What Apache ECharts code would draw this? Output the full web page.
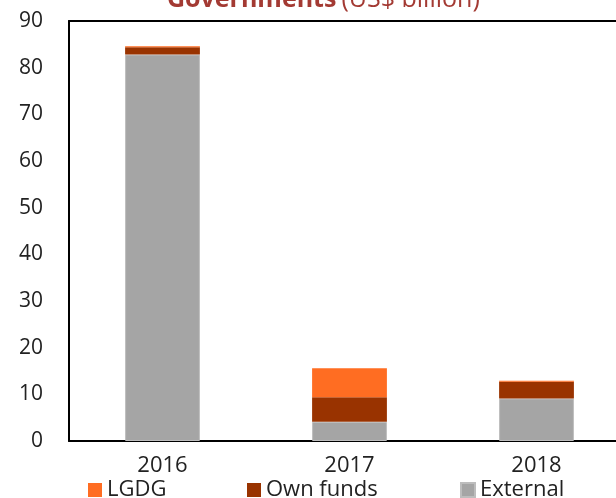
<!DOCTYPE html>
<html><head><meta charset="utf-8">
<script src="https://cdn.jsdelivr.net/npm/echarts@6/dist/echarts.min.js"></script>
<style>html,body{margin:0;padding:0;background:#fff}#c{width:616px;height:498px}</style>
</head><body><div id="c"></div>
<script>
const categories = ['2016', '2017', '2018'];
const external = [82.8, 4.1, 9.1];
const ownFunds = [1.6, 5.3, 3.6];
const lgdg = [0.2, 6.2, 0.2];
const yTicks = [0, 10, 20, 30, 40, 50, 60, 70, 80, 90];

const FONT = '"Open Sans", "Noto Sans", sans-serif';
const chart = echarts.init(document.getElementById('c'), null, {renderer: 'canvas'});
const legendStyle = {fontFamily: FONT, fontSize: 22, color: '#222'};
chart.setOption({
  animation: false,
  title: {
    text: '{b|Governments} {n|(US$ billion)}',
    left: 162, top: -18,
    textStyle: {rich: {
      b: {fontFamily: FONT, fontSize: 25, fontWeight: 'bold', color: '#A33A33'},
      n: {fontFamily: FONT, fontSize: 25, fontWeight: 'normal', color: '#A33A33'}
    }}
  },
  legend: [
    {data: ['LGDG'], left: 83, top: 474, itemWidth: 14, itemHeight: 14, itemGap: 4, textStyle: legendStyle, icon: 'rect'},
    {data: ['Own funds'], left: 242, top: 474, itemWidth: 14, itemHeight: 14, textStyle: legendStyle, icon: 'rect'},
    {data: ['External'], left: 455, top: 474, itemWidth: 14, itemHeight: 14, textStyle: legendStyle, icon: 'rect'}
  ],
  grid: {left: 69, top: 21, width: 561, height: 420, outerBoundsMode: 'none', containLabel: false, show: false},
  xAxis: [{
    type: 'category', data: categories,
    axisLine: {show: true, lineStyle: {color: '#000', width: 2}},
    axisTick: {show: false},
    axisLabel: {fontFamily: FONT, fontSize: 22, color: '#222', margin: 14}
  }, {
    type: 'category', data: categories, position: 'top',
    axisLine: {show: true, lineStyle: {color: '#000', width: 2}},
    axisTick: {show: false}, axisLabel: {show: false}
  }],
  yAxis: {
    type: 'value', min: 0, max: 90, interval: 10,
    axisLine: {show: true, lineStyle: {color: '#000', width: 2}},
    axisTick: {show: false},
    splitLine: {show: false},
    axisLabel: {fontFamily: FONT, fontSize: 21, color: '#222', margin: 26,
      formatter: v => yTicks.includes(v) ? String(v) : ''}
  },
  series: [
    {name: 'External', type: 'bar', stack: 's', data: external, barWidth: '40%',
      itemStyle: {color: '#A5A5A5', borderColor: '#BDBDBD', borderWidth: 1}},
    {name: 'Own funds', type: 'bar', stack: 's', data: ownFunds, barWidth: '40%',
      itemStyle: {color: '#993300'}},
    {name: 'LGDG', type: 'bar', stack: 's', data: lgdg, barWidth: '40%',
      itemStyle: {color: '#FF6D22'}}
  ]
});
</script></body></html>
